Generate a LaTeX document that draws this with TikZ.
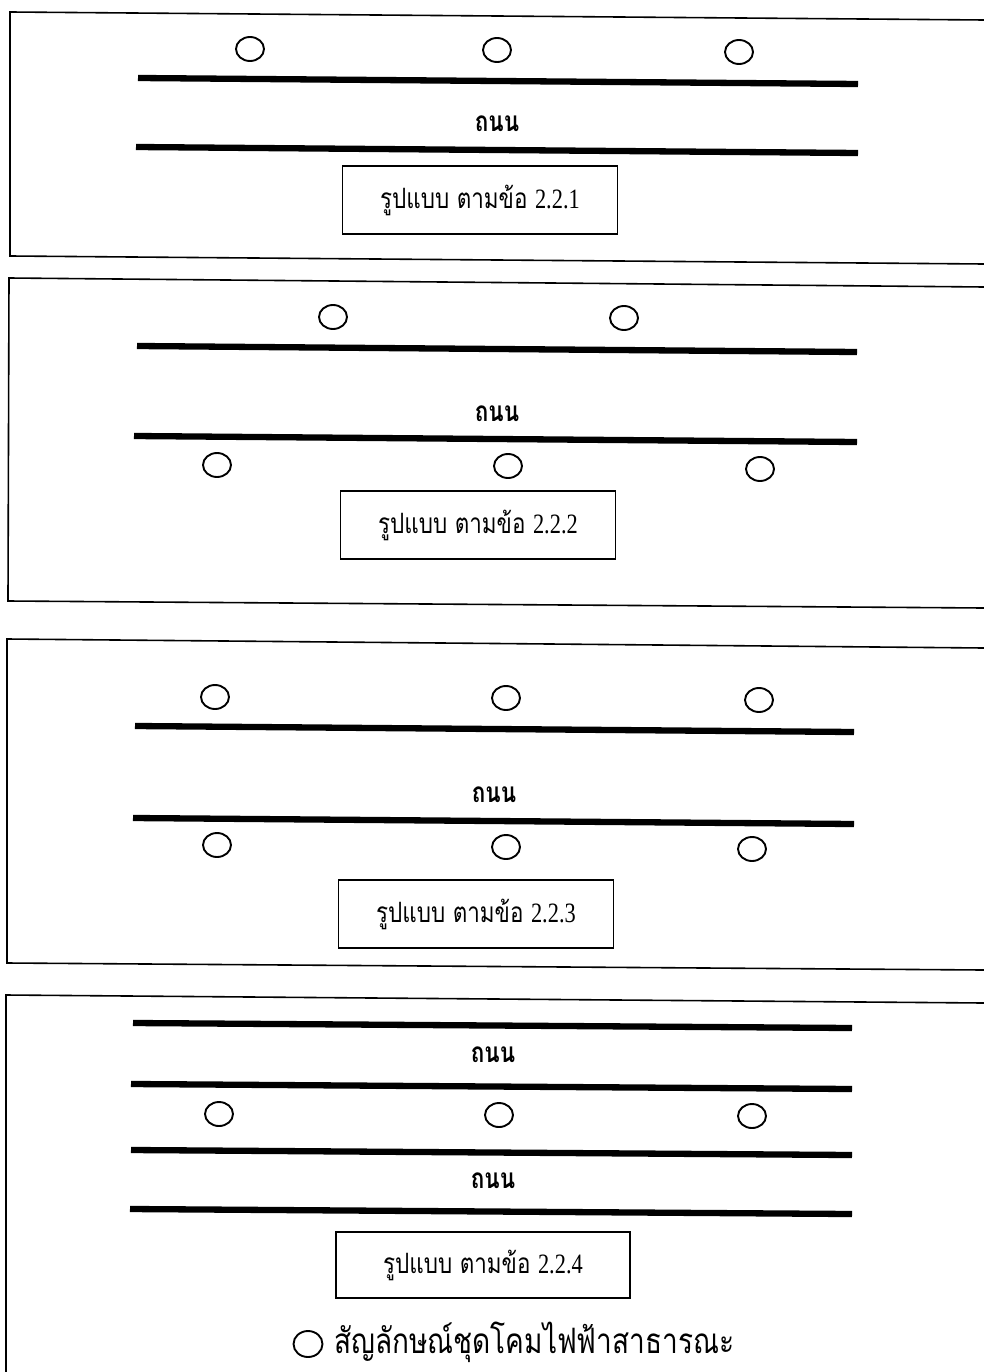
\documentclass[tikz,border=0pt]{standalone}
\usepackage{fontspec}
\setmainfont{Liberation Serif}
\newfontfamily\thaifont[Script=Thai,FakeStretch=0.8]{Loma}
\newfontfamily\numfont[FakeStretch=0.8]{Liberation Serif}
\usetikzlibrary{shapes.geometric}
\begin{document}
\begin{tikzpicture}[x=1pt,y=-1pt,
  frame/.style={line width=1.6pt},
  road/.style={line width=6.3pt},
  lamp/.style={ellipse, draw, line width=1.9pt, minimum width=28pt, minimum height=24pt, inner sep=0pt},
  caption/.style={draw, line width=1.3pt, minimum width=275pt, minimum height=68pt, inner sep=0pt},
  captext/.style={font=\thaifont\fontsize{28}{30}\selectfont},
  roadname/.style={font=\thaifont\bfseries\fontsize{28}{30}\selectfont, inner sep=0pt},
  legendtext/.style={font=\thaifont\fontsize{35}{37}\selectfont, inner sep=0pt, anchor=west}]
\useasboundingbox[fill=white] (0,0) rectangle (984,1372);

% ---------- Panel 1 ----------
\draw[frame] (984,20) -- (10,12) -- (10,256) -- (984,264);
\node[lamp] (p1a) at (250,49) {};
\node[lamp] (p1b) at (497,50) {};
\node[lamp] (p1c) at (739,52) {};
\draw[road] (138,78) -- (858,84);
\node[roadname] (p1r) at (497,124) {ถนน};
\draw[road] (136,147) -- (858,153);
\node[caption] (p1cap) at (480,200) {};
\node[captext] (p1t) at (480,200) {รูปแบบ ตามข้อ {\numfont 2.2.1}};

% ---------- Panel 2 ----------
\draw[frame] (984,287) -- (9,278) -- (8,601) -- (984,608);
\node[lamp] (p2a) at (333,317) {};
\node[lamp] (p2b) at (624,318) {};
\draw[road] (137,346) -- (857,352);
\node[roadname] (p2r) at (497,414) {ถนน};
\draw[road] (134,436) -- (857,442);
\node[lamp] (p2c) at (217,465) {};
\node[lamp] (p2d) at (508,466) {};
\node[lamp] (p2e) at (760,469) {};
\node[caption] (p2cap) at (478,525) {};
\node[captext] (p2t) at (478,525) {รูปแบบ ตามข้อ {\numfont 2.2.2}};

% ---------- Panel 3 ----------
\draw[frame] (984,648) -- (7,639) -- (7,963) -- (984,970);
\node[lamp] (p3a) at (215,697) {};
\node[lamp] (p3b) at (506,698) {};
\node[lamp] (p3c) at (759,700) {};
\draw[road] (135,726) -- (854,732);
\node[roadname] (p3r) at (494,795) {ถนน};
\draw[road] (133,818) -- (854,824);
\node[lamp] (p3d) at (217,845) {};
\node[lamp] (p3e) at (506,847) {};
\node[lamp] (p3f) at (752,849) {};
\node[caption] (p3cap) at (476,914) {};
\node[captext] (p3t) at (476,914) {รูปแบบ ตามข้อ {\numfont 2.2.3}};

% ---------- Panel 4 ----------
\draw[frame] (984,1003) -- (6,995) -- (6,1372);
\draw[road] (133,1023) -- (852,1028);
\node[roadname] (p4r1) at (493,1055) {ถนน};
\draw[road] (131,1084) -- (852,1089);
\node[lamp] (p4a) at (219,1114) {};
\node[lamp] (p4b) at (499,1115) {};
\node[lamp] (p4c) at (752,1116) {};
\draw[road] (131,1150) -- (852,1155);
\node[roadname] (p4r2) at (493,1181) {ถนน};
\draw[road] (130,1209) -- (852,1214);
\node[caption, minimum width=294pt, minimum height=66pt] (p4cap) at (483,1265) {};
\node[captext] (p4t) at (483,1265) {รูปแบบ ตามข้อ {\numfont 2.2.4}};

% ---------- Legend ----------
\node[lamp, minimum width=29pt, minimum height=26pt] (leg) at (308,1344) {};
\node[legendtext] (legt) at (334,1342) {สัญลักษณ์ชุดโคมไฟฟ้าสาธารณะ};
\end{tikzpicture}
\end{document}
